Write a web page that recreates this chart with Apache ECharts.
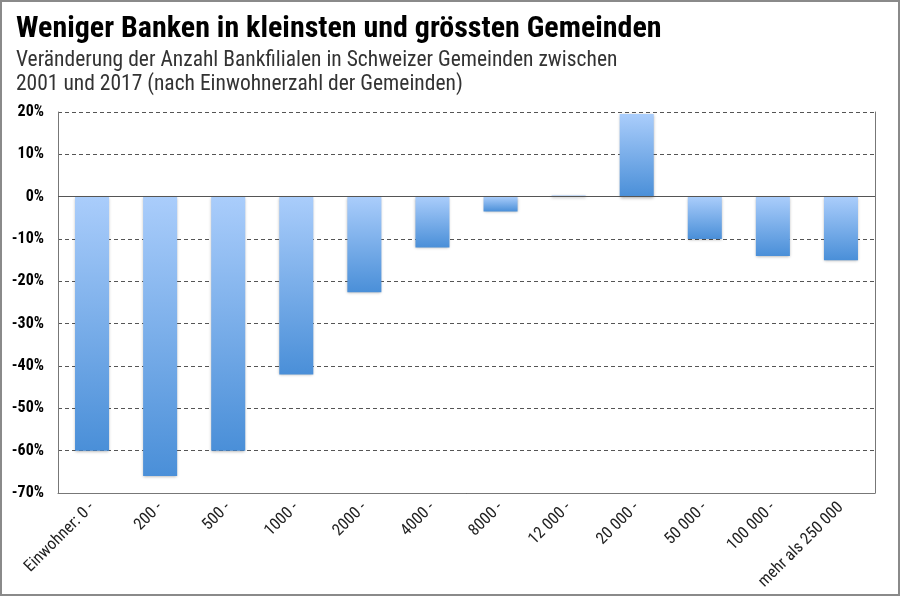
<!DOCTYPE html>
<html>
<head>
<meta charset="utf-8">
<script src="https://cdn.jsdelivr.net/npm/echarts@6/dist/echarts.min.js"></script>
<style>
html,body{margin:0;padding:0;background:#fff;}
#wrap{width:900px;height:596px;box-sizing:border-box;border:2px solid #8a8a8a;position:relative;}
#chart{position:absolute;left:-2px;top:-2px;width:900px;height:596px;}
</style>
</head>
<body>
<div id="wrap"><div id="chart"></div></div>
<script>
const categories = ['Einwohner: 0 -', '200 -', '500 -', '1000 -', '2000 -', '4000 -', '8000 -', '12 000 -', '20 000 -', '50 000 -', '100 000 -', 'mehr als 250 000'];
const changePct = [-60, -66, -60, -42, -22.6, -12, -3.5, 0.3, 19.5, -10, -14, -15];
const yTicks = [20, 10, 0, -10, -20, -30, -40, -50, -60, -70];

const FONT = "'Liberation Sans Narrow', 'Roboto Condensed', 'Roboto', sans-serif";
const chart = echarts.init(document.getElementById('chart'));
chart.setOption({
  animation: false,
  title: {
    text: 'Weniger Banken in kleinsten und grössten Gemeinden',
    subtext: 'Veränderung der Anzahl Bankfilialen in Schweizer Gemeinden zwischen\n2001 und 2017 (nach Einwohnerzahl der Gemeinden)',
    left: 11, top: 9, itemGap: 5,
    textStyle: {fontFamily: FONT, fontWeight: 'bold', fontSize: 30, color: '#000'},
    subtextStyle: {fontFamily: FONT, fontSize: 21.5, color: '#333', lineHeight: 24}
  },
  grid: {left: 58, right: 25, top: 112, bottom: 103},
  xAxis: [{
    type: 'category', data: categories,
    axisLine: {onZero: false, lineStyle: {color: '#777'}},
    axisTick: {show: false},
    axisLabel: {rotate: 45, interval: 0, margin: 12, fontFamily: FONT, fontSize: 16.5, color: '#222'}
  }],
  yAxis: [{
    type: 'value', min: -70, max: 20, interval: 10,
    axisLine: {show: true, lineStyle: {color: '#777'}},
    axisTick: {show: false},
    axisLabel: {formatter: v => yTicks.includes(v) ? v + '%' : '', margin: 14, fontFamily: FONT, fontWeight: 'bold', fontSize: 16, color: '#000'},
    splitLine: {lineStyle: {type: [4, 3], color: '#555'}}
  }, {
    type: 'value', min: -70, max: 20, interval: 10, position: 'right',
    axisLine: {show: true, lineStyle: {color: '#777'}},
    axisTick: {show: false}, axisLabel: {show: false}, splitLine: {show: false}
  }],
  series: [{
    type: 'bar', data: changePct, barWidth: '50%',
    itemStyle: {
      color: new echarts.graphic.LinearGradient(0, 0, 0, 1, [
        {offset: 0, color: '#aacdfb'},
        {offset: 1, color: '#4a8fd8'}
      ]),
      shadowColor: 'rgba(0,0,0,0.35)', shadowBlur: 3, shadowOffsetY: 1
    },
    markLine: {
      silent: true, symbol: 'none', label: {show: false},
      lineStyle: {type: 'solid', color: '#555', width: 1},
      data: [{yAxis: 0}]
    }
  }]
});
</script>
</body>
</html>
